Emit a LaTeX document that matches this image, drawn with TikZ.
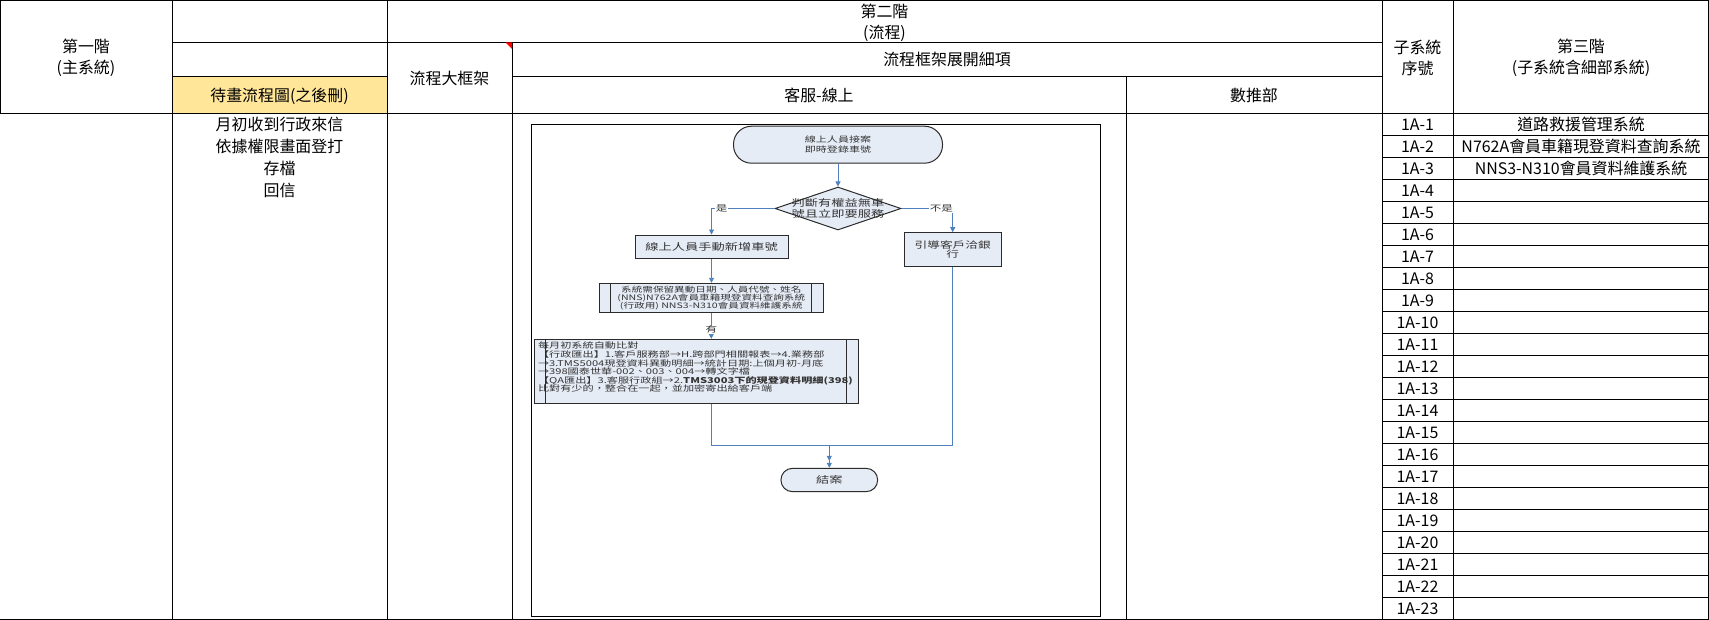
\documentclass[tikz,border=0pt]{standalone}
\usepackage{fontspec}
\usepackage{graphicx}
\usetikzlibrary{arrows.meta,shapes.geometric}
\newfontfamily\cjk{Noto Sans CJK TC}
\newfontfamily\flowcjk{Noto Sans CJK TC}
\newcommand{\wide}[1]{\scalebox{1.4}[1]{#1}}
\definecolor{memo}{HTML}{FFE699}
\definecolor{flowfill}{HTML}{E6ECF6}
\definecolor{flowblue}{HTML}{4F81BD}
\definecolor{flowedge}{HTML}{2B2B2B}
\definecolor{flowtext}{HTML}{333333}
\definecolor{notered}{HTML}{FF0000}

\begin{document}
\begin{tikzpicture}[x=1bp,y=-1bp,
  cell/.style={font=\cjk\fontsize{16}{21}\selectfont,align=center,inner sep=0pt},
  gridrule/.style={line width=.9bp,draw=black},
  flowbox/.style={draw=flowedge,fill=flowfill,line width=1bp,inner sep=2bp,text=flowtext,align=center},
  flowline/.style={draw=flowblue,line width=.9bp},
  flowarrow/.style={flowline,-{Triangle[width=5bp,length=5bp]}},
  flowtag/.style={fill=white,inner sep=.5bp,text=black!80,font=\flowcjk\fontsize{8.3}{9}\selectfont}]
  \path[fill=white] (0,0) rectangle (1709,620);
  \useasboundingbox (0,0) rectangle (1709,620);

  % Header cells.
  \path[fill=memo] (172,76) rectangle (387,113.5);
  \draw[gridrule] (0,.6) -- (1709,.6);
  \draw[gridrule] (172,42) -- (1382,42);
  \draw[gridrule] (172,76) -- (387,76);
  \draw[gridrule] (512,76) -- (1382,76);
  \draw[gridrule] (0,113.5) -- (1709,113.5);
  \draw[gridrule] (0,619) -- (1709,619);
  \draw[gridrule] (.6,0) -- (.6,113.5);
  \foreach \x in {172,387,1382,1453,1708.4}
    \draw[gridrule] (\x,0) -- (\x,620);
  \draw[gridrule] (512,42) -- (512,620);
  \draw[gridrule] (1126,76) -- (1126,620);
  \foreach \i in {1,...,22}
    \draw[gridrule] (1382,113.5+22*\i) -- (1709,113.5+22*\i);
  \fill[notered] (505.5,42.5) -- (512,42.5) -- (512,49) -- cycle;

  \node[cell] (tier1) at (86,58) {第一階\\(主系統)};
  \node[cell] (tier2) at (884.5,22.5) {第二階\\(流程)};
  \node[cell] (frame) at (449.5,78) {流程大框架};
  \node[cell] (detail) at (947,59) {流程框架展開細項};
  \node[cell] (todo) at (279.5,96) {待畫流程圖(之後刪)};
  \node[cell] (online) at (819,95.5) {客服-線上};
  \node[cell] (digital) at (1254,95.5) {數推部};
  \node[cell] (subno) at (1417.5,58) {子系統\\序號};
  \node[cell] (tier3) at (1581,58) {第三階\\(子系統含細部系統)};

  % Body rows.
  \foreach \t [count=\i] in {月初收到行政來信,依據權限畫面登打,存檔,回信}
    \node[cell] (step\i) at (279.5,102.5+22*\i) {\t};
  \foreach \i in {1,...,23}
    \node[cell] (sub\i) at (1417.5,102.5+22*\i) {1A-\i};
  \foreach \s [count=\i] in {道路救援管理系統,N762A會員車籍現登資料查詢系統,NNS3-N310會員資料維護系統}
    \node[cell] (sys\i) at (1581,102.5+22*\i) {\s};

  % Flowchart of the online service desk.
  \draw[line width=.9bp] (531.7,124.5) rectangle (1100.7,616.7);
  \node[flowbox,rounded corners=18bp,minimum width=209bp,minimum height=37bp,
    font=\flowcjk\fontsize{7.9}{10}\selectfont] (start) at (838,144.7)
    {\wide{線上人員接案}\\\wide{即時登錄車號}};
  \node[flowbox,diamond,minimum width=126bp,minimum height=43bp,inner sep=0pt] (decide) at (838,208.5) {};
  \node[text=flowtext,align=center,inner sep=0pt,font=\flowcjk\fontsize{9.5}{10.6}\selectfont]
    (decidetext) at (decide.center) {\wide{判斷有權益無車}\\\wide{號且立即要服務}};
  \node[flowbox,minimum width=153bp,minimum height=23.3bp,
    font=\flowcjk\fontsize{9.5}{11}\selectfont] (addcar) at (711.5,246.7) {\wide{線上人員手動新增車號}};
  \node[flowbox,minimum width=96.7bp,minimum height=34bp,
    font=\flowcjk\fontsize{9.1}{9.5}\selectfont] (guide) at (952.7,249.7) {\wide{引導客戶洽銀}\\\wide{行}};
  \node[flowbox,minimum width=224bp,minimum height=29.4bp,inner sep=1bp,
    font=\flowcjk\fontsize{7.6}{8}\selectfont] (keep) at (711.3,298)
    {\wide{系統需保留異動日期、人員代號、姓名}\\\wide{(NNS)N762A會員車籍現登資料查詢系統}\\\wide{(行政用) NNS3-N310會員資料維護系統}};
  \node[flowbox,minimum width=324bp,minimum height=64bp,text width=316bp,align=left,
    font=\flowcjk\fontsize{8}{8.6}\selectfont] (compare) at (696,371.3)
    {\wide{每月初系統自動比對}\\
     \wide{【行政匯出】1.客戶服務部→H.跨部門相關報表→4.業務部}\\
     \wide{→3.TMS5004現登資料異動明細→統計日期:上個月初-月底}\\
     \wide{→398國泰世華-002、003、004→轉文字檔}\\
     \wide{【QA匯出】3.客服行政組→2.\textbf{TMS3003下的現登資料明細(398)}}\\
     \wide{比對有少的，整合在一起，並加密寄出給客戶端}\\ \mbox{}};
  \node[flowbox,rounded corners=11.5bp,minimum width=96.7bp,minimum height=23.3bp,
    font=\flowcjk\fontsize{9.5}{10}\selectfont] (finish) at (829.3,480) {\wide{結案}};
  \foreach \b in {keep,compare} {
    \draw[flowedge,line width=.9bp] ([xshift=12bp]\b.north west) -- ([xshift=12bp]\b.south west);
    \draw[flowedge,line width=.9bp] ([xshift=-12bp]\b.north east) -- ([xshift=-12bp]\b.south east);
  }

  \coordinate (merge) at (829.3,445.7);
  \draw[flowarrow] (start) -- (decide);
  \draw[flowarrow] (decide.west) -| node[flowtag,pos=.42] (yes) {\wide{是}} (addcar.north);
  \draw[flowarrow] (decide.east) -| node[flowtag,pos=.39] (no) {\wide{不是}} (guide.north);
  \draw[flowarrow] (addcar.south) -- (addcar.south |- keep.north);
  \draw[flowarrow] (keep.south) -- node[flowtag,pos=.65] (has) {\wide{有}} (keep.south |- compare.north);
  \draw[flowarrow] (keep.south |- compare.south) |- (merge) -- (finish.north);
  \draw[flowarrow] (guide.south) |- (merge) -- ([yshift=7bp]finish.north);
\end{tikzpicture}
\end{document}
